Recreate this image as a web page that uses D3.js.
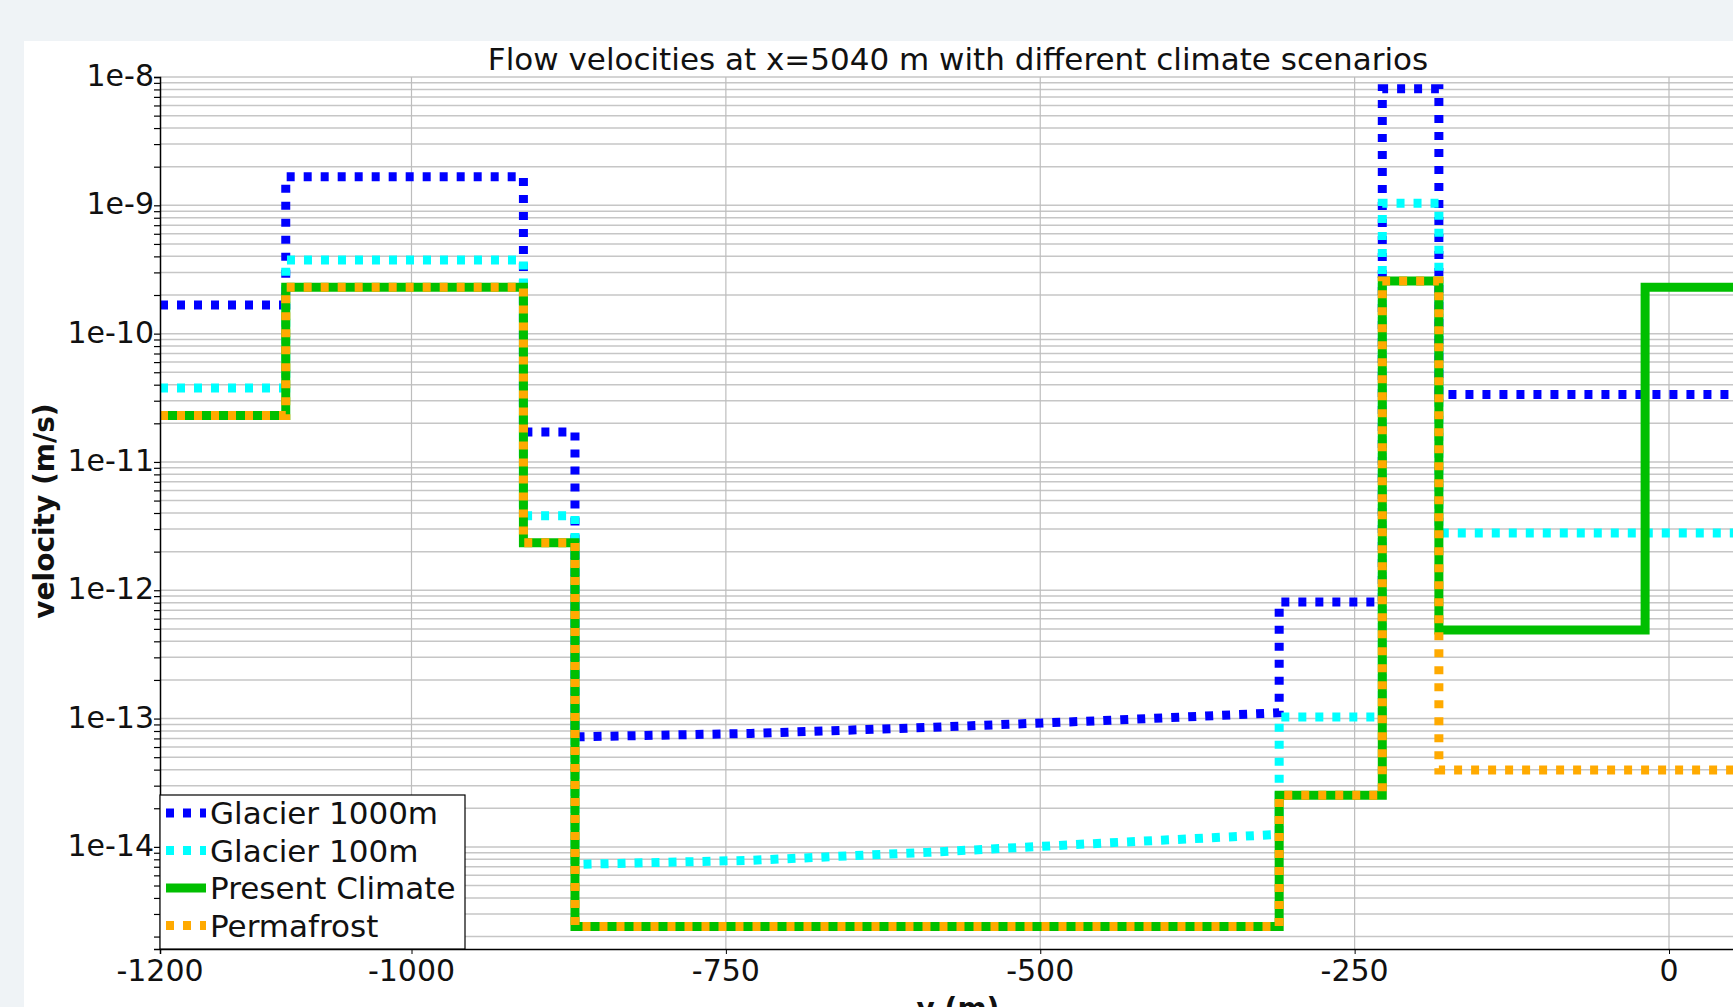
<!DOCTYPE html>
<head>
  <meta charset="utf-8">
  <script src="https://d3js.org/d3.v7.min.js"></script>
</head>
<style>
  body { margin: 0; background: #eff3f6; overflow: hidden; }
  svg { display: block; }
  text { font-family: "DejaVu Sans", sans-serif; fill: #111; }
  .grid line { stroke: #c6c6c6; stroke-width: 1.5; }
  .vgrid line { stroke: #bdbdbd; stroke-width: 1.2; }
</style>

<body>
<div id="chart"></div>

<script>
// series as [y (m), velocity (m/s)] step points
var glacier1000 = [
  [-1200, 1.67e-10], [-1100, 1.67e-10], [-1100, 1.67e-9], [-911, 1.67e-9],
  [-911, 1.71e-11], [-870, 1.71e-11], [-870, 7.2e-14], [-730, 7.66e-14],
  [-590, 8.52e-14], [-450, 9.64e-14], [-310, 1.11e-13], [-310, 8.1e-13],
  [-228, 8.1e-13], [-228, 8.1e-9], [-183, 8.1e-9], [-183, 3.36e-11], [70, 3.36e-11]
];
var glacier100 = [
  [-1200, 3.77e-11], [-1100, 3.77e-11], [-1100, 3.75e-10], [-911, 3.75e-10],
  [-911, 3.8e-12], [-870, 3.8e-12], [-870, 7.3e-15], [-730, 7.86e-15],
  [-590, 9.06e-15], [-450, 1.07e-14], [-310, 1.25e-14], [-310, 1.03e-13],
  [-228, 1.03e-13], [-228, 1.04e-9], [-183, 1.04e-9], [-183, 2.8e-12], [70, 2.8e-12]
];
var presentClimate = [
  [-1200, 2.3e-11], [-1100, 2.3e-11], [-1100, 2.3e-10], [-911, 2.3e-10],
  [-911, 2.35e-12], [-870, 2.35e-12], [-870, 2.4e-15], [-310, 2.4e-15],
  [-310, 2.53e-14], [-228, 2.53e-14], [-228, 2.57e-10], [-183, 2.57e-10],
  [-183, 4.9e-13], [-19, 4.9e-13], [-19, 2.3e-10], [70, 2.3e-10]
];
var permafrost = [
  [-1200, 2.3e-11], [-1100, 2.3e-11], [-1100, 2.3e-10], [-911, 2.3e-10],
  [-911, 2.35e-12], [-870, 2.35e-12], [-870, 2.4e-15], [-310, 2.4e-15],
  [-310, 2.53e-14], [-228, 2.53e-14], [-228, 2.57e-10], [-183, 2.57e-10],
  [-183, 3.97e-14], [70, 3.97e-14]
];

var seriesNames = ["Glacier 1000m", "Glacier 100m", "Present Climate", "Permafrost"];
var seriesColors = ["#0000ff", "#00ffff", "#00bf00", "#ffaa00"];
var seriesDashed = [true, true, false, true];
var seriesData = [glacier1000, glacier100, presentClimate, permafrost];

var xTicks = [-1200, -1000, -750, -500, -250, 0];
var yTicks = [1e-14, 1e-13, 1e-12, 1e-11, 1e-10, 1e-9, 1e-8];
var xDomain = [-1200, 70];
var yDomain = [1.6e-15, 1e-8];

var W = 1733, H = 1007;
var plot = {left: 160, top: 77, bottom: 949};
plot.right = plot.left + (xDomain[1] - xDomain[0]) * 1.2575;

var svg = d3.select("#chart").append("svg").attr("width", W).attr("height", H);

// white render panel
svg.append("rect").attr("x", 24).attr("y", 41).attr("width", W).attr("height", H).attr("fill", "white");

var x = d3.scaleLinear().domain(xDomain).range([plot.left, plot.right]);
var y = d3.scaleLog().domain(yDomain).range([plot.bottom, plot.top]);

// minor + major horizontal grid
var minor = [];
for (var e = -16; e <= -8; e++) {
  for (var k = 1; k <= 9; k++) {
    var v = k * Math.pow(10, e);
    if (v >= yDomain[0] * 0.999 && v <= yDomain[1] * 1.001) minor.push(v);
  }
}
svg.append("g").attr("class", "grid").selectAll("line").data(minor).enter().append("line")
  .attr("x1", plot.left).attr("x2", W)
  .attr("y1", d => y(d)).attr("y2", d => y(d));

svg.append("g").attr("class", "vgrid").selectAll("line").data(xTicks.slice(1)).enter().append("line")
  .attr("x1", d => x(d)).attr("x2", d => x(d))
  .attr("y1", plot.top).attr("y2", plot.bottom);

// series
var line = d3.line().x(d => x(d[0])).y(d => y(d[1]));
seriesData.forEach(function(data, i) {
  svg.append("path")
    .attr("d", line(data))
    .attr("fill", "none")
    .attr("stroke", seriesColors[i])
    .attr("stroke-width", 9)
    .attr("stroke-linejoin", "miter")
    .attr("stroke-dasharray", seriesDashed[i] ? "8,9" : null);
});

// axes
var yAxis = svg.append("g").attr("transform", "translate(" + plot.left + ",0)")
  .call(d3.axisLeft(y).tickValues(minor).tickSize(6).tickFormat(""));
yAxis.select(".domain").attr("stroke", "#000").attr("stroke-width", 1.5);
yAxis.selectAll(".tick line").attr("stroke", "#000").attr("stroke-width", 1.2);

svg.append("g").selectAll("text").data(yTicks).enter().append("text")
  .attr("x", plot.left - 6).attr("y", d => y(d) + 9)
  .attr("text-anchor", "end").style("font-size", "30px")
  .text(d => "1e" + Math.round(Math.log10(d)));

var xAxis = svg.append("g").attr("transform", "translate(0," + plot.bottom + ")")
  .call(d3.axisBottom(x).tickValues(xTicks).tickSize(5).tickFormat(""));
xAxis.select(".domain").attr("stroke", "#000").attr("stroke-width", 1.5);
xAxis.selectAll(".tick line").attr("stroke", "#000");

svg.append("g").selectAll("text").data(xTicks).enter().append("text")
  .attr("x", d => x(d)).attr("y", plot.bottom + 32)
  .attr("text-anchor", "middle").style("font-size", "30px")
  .text(d => d);

// titles
svg.append("text").attr("x", 958).attr("y", 70).attr("text-anchor", "middle")
  .style("font-size", "31px").text("Flow velocities at x=5040 m with different climate scenarios");

svg.append("text").attr("x", 958).attr("y", 1018).attr("text-anchor", "middle")
  .style("font-size", "28px").style("font-weight", "bold").text("y (m)");

svg.append("text").attr("transform", "translate(54,511) rotate(-90)").attr("text-anchor", "middle")
  .style("font-size", "28px").style("font-weight", "bold").text("velocity (m/s)");

// legend
var lg = svg.append("g").attr("transform", "translate(" + plot.left + ",795)");
lg.append("rect").attr("width", 305).attr("height", plot.bottom - 795)
  .attr("fill", "white").attr("stroke", "#000").attr("stroke-width", 1.2);
seriesNames.forEach(function(name, i) {
  var ly = 18 + i * 37.5;
  lg.append("line").attr("x1", 6).attr("x2", 46).attr("y1", ly).attr("y2", ly)
    .attr("stroke", seriesColors[i]).attr("stroke-width", 9)
    .attr("stroke-dasharray", seriesDashed[i] ? "8,9" : null);
  lg.append("text").attr("x", 50).attr("y", ly + 11).style("font-size", "31px").text(name);
});
</script>
</body>
